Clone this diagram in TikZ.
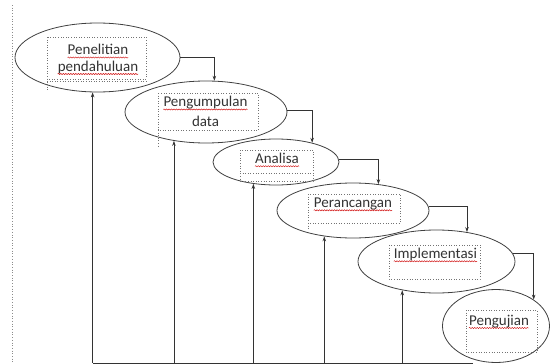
\documentclass[tikz,border=0pt]{standalone}
\usepackage{fontspec}
\setmainfont{Carlito}
\usetikzlibrary{shapes.geometric,arrows.meta,decorations.pathmorphing}
\begin{document}
\begin{tikzpicture}[x=1pt,y=-1pt,
  stage/.style={ellipse, draw=black!75, line width=0.8pt, inner sep=0pt},
  tbox/.style={draw=black!55, dotted, line width=0.6pt},
  lbl/.style={font=\fontsize{15}{18}\selectfont, text=black!80, inner sep=0pt, anchor=base},
  flow/.style={draw=black!80, line width=0.8pt, -{Stealth[length=5pt,width=3.5pt]}},
  plainline/.style={draw=black!80, line width=0.8pt},
  squig/.style={draw=red!80!black, line width=0.4pt, decorate, decoration={snake, amplitude=0.6pt, segment length=2.5pt}},
  guide/.style={draw=black!45, dotted, line width=0.7pt},
]
\useasboundingbox (0,0) rectangle (550,364);

% left dotted guide
\coordinate (d1) at (12,5);
\coordinate (d2) at (12,364);
\draw[guide] (d1) -- (d2);

% stages
\node[stage, minimum width=165pt, minimum height=69pt] (E1) at (97.5,57.5) {};
\node[stage, minimum width=162pt, minimum height=62pt] (E2) at (206,112) {};
\node[stage, minimum width=126pt, minimum height=46pt] (E3) at (276,162) {};
\node[stage, minimum width=152pt, minimum height=55pt] (E4) at (353,210.5) {};
\node[stage, minimum width=157pt, minimum height=63pt] (E5) at (436.5,261.5) {};
\node[stage, minimum width=107pt, minimum height=73pt] (E6) at (496,326) {};

% text boxes
\draw[tbox] (47,37) rectangle (146,79);
\draw[tbox] (47,81.5) -- (146,81.5);
\draw[tbox] (47,79) -- (47,90);

\draw[tbox] (158,93) rectangle (258,130);
\draw[tbox] (158,130) -- (158,147);

\draw[tbox] (240,150) rectangle (313,181);
\draw[tbox] (240,173) -- (313,173);

\draw[tbox] (308,194) rectangle (400,223);
\draw[tbox] (308,223) -- (308,229);

\draw[tbox] (389,245) rectangle (480,279);
\draw[tbox] (466,310) rectangle (537,352);

% labels
\node[lbl] (t1a) at (98,54.5) {Penelitian};
\node[lbl] (t1b) at (98,71) {pendahuluan};
\node[lbl] (t2a) at (205.5,106.5) {Pengumpulan};
\node[lbl] (t2b) at (205.5,126.5) {data};
\node[lbl] (t3) at (277,163.3) {Analisa};
\node[lbl] (t4) at (353,207.3) {Perancangan};
\node[lbl] (t5) at (435.5,258.3) {Implementasi};
\node[lbl] (t6) at (499,325) {Pengujian};

\foreach \n in {t1a,t1b,t2a,t3,t4,t5,t6}
  \draw[squig] ([yshift=-3pt]\n.base west) -- ([yshift=-3pt]\n.base east);

% forward arrows
\draw[flow] (E1.east) -| (E2.75);
\draw[flow] (E2.1.5) -| (E3.28);
\draw[flow] (E3.2.5) -| (E4.46);
\draw[flow] (E4.3.5) -| (E5.44);
\draw[flow] (E5.6.5) -| (E6.35.5);

% feedback lines
\coordinate (bl) at (93,363);
\coordinate (br) at (473,363);
\draw[plainline] (bl) -- (br);
\draw[flow] (E1.262.6 |- bl) -- (E1.262.6);
\draw[flow] (E2.222.7 |- bl) -- (E2.222.7);
\draw[flow] (E3.224.4 |- bl) -- (E3.224.4);
\draw[flow] (E4.222.4 |- bl) -- (E4.222.4);
\draw[flow] (E5.220.4 |- bl) -- (E5.220.4);
\end{tikzpicture}
\end{document}
